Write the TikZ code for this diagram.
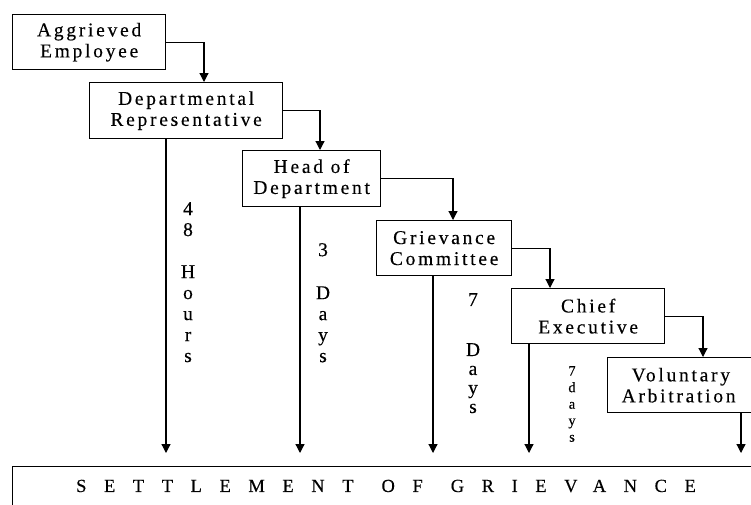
\documentclass[tikz,border=0pt]{standalone}
\usepackage{fontspec}
\setmainfont{Liberation Serif}[LetterSpace=14, FakeBold=0.3]
\newfontfamily\widefont{Liberation Serif}[LetterSpace=95, FakeBold=0.3]
\usetikzlibrary{arrows.meta}

\tikzset{
  stage/.style={draw, line width=1.3pt, anchor=north west, align=center, inner sep=0pt},
  flow/.style={line width=1.2pt, -{Triangle[width=9pt,length=9pt]}},
  period/.style={anchor=north, align=center, inner sep=0pt},
}

\begin{document}
\begin{tikzpicture}[x=1pt, y=-1pt, font=\fontsize{19.5}{21}\selectfont]
  \useasboundingbox (0,0) rectangle (751,504);

  % escalation stages
  \node[stage, minimum width=153pt, minimum height=55pt] (ae) at (12,14) {Aggrieved\\Employee};
  \node[stage, minimum width=193pt, minimum height=56pt] (dr) at (89,82) {Departmental\\Representative};
  \node[stage, minimum width=138pt, minimum height=56pt] (hd) at (242,150) {Head of\\Department};
  \node[stage, minimum width=135pt, minimum height=55pt] (gc) at (376,220) {Grievance\\Committee};
  \node[stage, minimum width=153pt, minimum height=55pt] (ce) at (511,288) {Chief\\Executive};
  \node[stage, minimum width=160pt, minimum height=55pt, text width=144pt, align=left] (va) at (607,357) {\hspace*{16pt}Voluntary\\\hspace*{6pt}Arbitration};

  % final outcome
  \node[stage, minimum width=760pt, minimum height=60pt] (sg) at (12,466) {};
  \node (sgtext) at (386,486) {\widefont\fontsize{18.5}{21}\selectfont SETTLEMENT\hspace{28pt}OF\hspace{28pt}GRIEVANCE};

  % escalation connectors
  \draw[flow] (ae.east) -| ([xshift=115pt]dr.north west);
  \draw[flow] (dr.east) -| ([xshift=78pt]hd.north west);
  \draw[flow] (hd.east) -| ([xshift=77pt]gc.north west);
  \draw[flow] (gc.east) -| ([xshift=39pt]ce.north west);
  \draw[flow] (ce.east) -| ([xshift=96pt]va.north west);

  % settlement connectors
  \foreach \src/\dx in {dr/77, hd/58, gc/57, ce/18, va/134}{
    \draw[flow, shorten >=13pt] ([xshift=\dx pt]\src.south west) -- ([xshift=\dx pt]\src.south west |- sg.north);
  }

  % time limits
  \node[period] (t1) at (188,202) {4\\8\\[21pt]H\\o\\u\\r\\s};
  \node[period] (t2) at (323,243) {3\\[22pt]D\\a\\y\\s};
  \node[period, font=\fontsize{19.5}{19}\selectfont] (t3) at (473,293) {7\\[31pt]D\\a\\y\\s};
  \node[period, font=\fontsize{14.5}{16.5}\selectfont] (t4) at (572,366) {7\\d\\a\\y\\s};
\end{tikzpicture}
\end{document}
